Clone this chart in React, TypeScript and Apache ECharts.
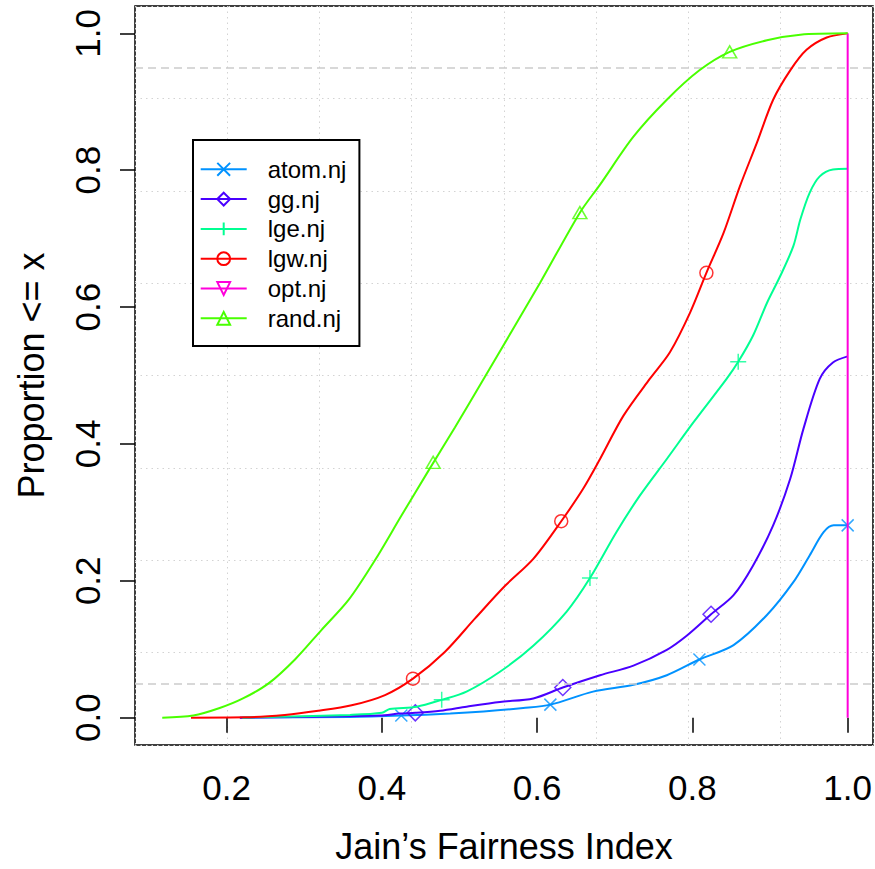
import { useEffect, useRef } from 'react';
import * as echarts from 'echarts';

// ---- data ----
const seriesNames = ['atom.nj', 'gg.nj', 'lge.nj', 'lgw.nj', 'opt.nj', 'rand.nj'];
const seriesColors = ['#0092FF', '#4900FF', '#00FF92', '#FF0000', '#FF00DB', '#49FF00'];

const atomX = [0.217, 0.359, 0.425, 0.488, 0.531, 0.582, 0.617, 0.672, 0.724, 0.767, 0.809, 0.853, 0.896, 0.930, 0.951, 0.969, 0.982, 1.0];
const atomY = [0, 0.001, 0.003, 0.006, 0.009, 0.014, 0.019, 0.038, 0.048, 0.062, 0.085, 0.106, 0.150, 0.198, 0.237, 0.271, 0.281, 0.281];
const atomMarkX = [0.425, 0.617, 0.809, 1.0];
const atomMarkY = [0.003, 0.019, 0.085, 0.281];

const ggX = [0.217, 0.397, 0.423, 0.443, 0.475, 0.509, 0.552, 0.595, 0.633, 0.681, 0.724, 0.767, 0.793, 0.824, 0.853, 0.878, 0.904, 0.926, 0.943, 0.964, 0.981, 1.0];
const ggY = [0, 0.003, 0.006, 0.007, 0.010, 0.016, 0.023, 0.028, 0.044, 0.062, 0.076, 0.099, 0.120, 0.151, 0.179, 0.222, 0.281, 0.349, 0.422, 0.495, 0.519, 0.528];
const ggMarkX = [0.443, 0.633, 0.824];
const ggMarkY = [0.007, 0.044, 0.151];

const lgeX = [0.22, 0.359, 0.40, 0.410, 0.445, 0.477, 0.509, 0.552, 0.595, 0.638, 0.668, 0.702, 0.732, 0.767, 0.801, 0.844, 0.859, 0.878, 0.896, 0.913, 0.930, 0.939, 0.951, 0.964, 0.981, 1.0];
const lgeY = [0, 0.004, 0.007, 0.0125, 0.016, 0.026, 0.038, 0.067, 0.105, 0.155, 0.204, 0.271, 0.324, 0.378, 0.431, 0.495, 0.520, 0.558, 0.606, 0.645, 0.689, 0.728, 0.767, 0.791, 0.801, 0.802];
const lgeMarkX = [0.477, 0.668, 0.859];
const lgeMarkY = [0.026, 0.204, 0.520];

const lgwX = [0.154, 0.224, 0.275, 0.318, 0.361, 0.404, 0.440, 0.481, 0.520, 0.559, 0.595, 0.631, 0.659, 0.681, 0.711, 0.745, 0.771, 0.797, 0.818, 0.840, 0.861, 0.883, 0.904, 0.926, 0.947, 0.973, 1.0];
const lgwY = [0, 0.0004, 0.004, 0.010, 0.018, 0.033, 0.057, 0.096, 0.145, 0.193, 0.232, 0.287, 0.334, 0.378, 0.441, 0.495, 0.534, 0.592, 0.650, 0.708, 0.776, 0.840, 0.903, 0.946, 0.976, 0.994, 1.0];
const lgwMarkX = [0.440, 0.631, 0.818];
const lgwMarkY = [0.057, 0.287, 0.650];

const optX = [1.0, 1.0];
const optY = [0, 1.0];
const optMarkX: number[] = [];
const optMarkY: number[] = [];

const randX = [0.117, 0.157, 0.191, 0.221, 0.254, 0.288, 0.322, 0.357, 0.391, 0.425, 0.460, 0.494, 0.531, 0.604, 0.655, 0.681, 0.724, 0.767, 0.809, 0.848, 0.896, 0.939, 1.0];
const randY = [0, 0.003, 0.014, 0.028, 0.05, 0.085, 0.128, 0.172, 0.23, 0.295, 0.361, 0.424, 0.495, 0.636, 0.738, 0.779, 0.849, 0.903, 0.946, 0.973, 0.99, 0.998, 1.0];
const randMarkX = [0.466, 0.655, 0.848];
const randMarkY = [0.373, 0.738, 0.973];

const xTicks = [0.2, 0.4, 0.6, 0.8, 1.0];
const yTicks = [0, 0.2, 0.4, 0.6, 0.8, 1.0];
const refLines = [0.95, 0.05];

const X_MIN = 0.0819;
const X_MAX = 1.0326;
const Y_MIN = -0.04;
const Y_MAX = 1.04;

const FONT = '"Liberation Sans", Arial, Helvetica, sans-serif';

const SYM = {
  cross: 'path://M0,0L10,10M10,0L0,10',
  diamond: 'path://M5,0L10,5L5,10L0,5Z',
  plus: 'path://M5,0L5,10M0,5L10,5',
  circle: 'path://M10,5A5,5,0,1,1,0,5A5,5,0,1,1,10,5Z',
  down: 'path://M0,0L10,0L5,8.66Z',
  up: 'path://M5,0L10,8.66L0,8.66Z',
};

const seriesLines = [
  { x: atomX, y: atomY, mx: atomMarkX, my: atomMarkY, sym: SYM.cross, size: 12 },
  { x: ggX, y: ggY, mx: ggMarkX, my: ggMarkY, sym: SYM.diamond, size: 16 },
  { x: lgeX, y: lgeY, mx: lgeMarkX, my: lgeMarkY, sym: SYM.plus, size: 16 },
  { x: lgwX, y: lgwY, mx: lgwMarkX, my: lgwMarkY, sym: SYM.circle, size: 13 },
  { x: optX, y: optY, mx: optMarkX, my: optMarkY, sym: SYM.down, size: [14, 12] },
  { x: randX, y: randY, mx: randMarkX, my: randMarkY, sym: SYM.up, size: [14, 12] },
];

function pairs(xs: number[], ys: number[]) {
  return xs.map((v, i) => [v, ys[i]]);
}

export default function App() {
  const ref = useRef<HTMLDivElement>(null);
  useEffect(() => {
    if (!ref.current) return;
    const chart = echarts.init(ref.current, undefined, { renderer: 'svg' });

    const series: any[] = [
      {
        type: 'line',
        name: '__ref',
        data: [],
        silent: true,
        markLine: {
          silent: true,
          symbol: ['none', 'none'],
          label: { show: false },
          lineStyle: { type: [8, 5], color: '#cccccc', width: 1.5 },
          data: refLines.map((v) => ({ yAxis: v })),
        },
      },
    ];
    seriesLines.forEach((s, i) => {
      const col = seriesColors[i];
      series.push({
        type: 'line',
        name: seriesNames[i],
        data: pairs(s.x, s.y),
        showSymbol: false,
        symbol: s.sym,
        symbolSize: s.size,
        smooth: 0.3,
        lineStyle: { color: col, width: 2 },
        itemStyle: { color: 'transparent', borderColor: col, borderWidth: 1.5 },
        z: 3 + i,
      });
      if (s.mx.length) {
        series.push({
          type: 'scatter',
          name: seriesNames[i],
          data: pairs(s.mx, s.my),
          symbol: s.sym,
          symbolSize: s.size,
          itemStyle: { color: 'transparent', borderColor: col, borderWidth: 1.5 },
          z: 3 + i,
        });
      }
    });

    chart.setOption({
      animation: false,
      backgroundColor: '#fff',
      grid: {
        left: 135,
        top: 6,
        width: 738,
        height: 740.7,
        show: true,
        borderColor: '#000',
        borderWidth: 1.5,
        backgroundColor: 'transparent',
      },
      legend: {
        data: seriesNames,
        orient: 'vertical',
        left: 193,
        top: 140,
        itemWidth: 46,
        itemHeight: 16,
        itemGap: 5.8,
        padding: [17.3, 13, 15.7, 6.7],
        backgroundColor: '#fff',
        borderColor: '#000',
        borderWidth: 2,
        borderRadius: 0,
        selectedMode: false,
        textStyle: { fontSize: 24, color: '#000', fontFamily: FONT, padding: [0, 0, 0, 16] },
      },
      xAxis: [
        {
          type: 'value',
          min: X_MIN,
          max: X_MAX,
          position: 'bottom',
          name: 'Jain’s Fairness Index',
          nameLocation: 'middle',
          nameGap: 83,
          nameTextStyle: { fontSize: 36, color: '#000', fontFamily: FONT },
          axisLine: { show: false },
          axisTick: { show: true, length: 15, customValues: xTicks, lineStyle: { color: '#000', width: 1.5 } },
          axisLabel: {
            customValues: xTicks,
            fontSize: 35,
            color: '#000',
            fontFamily: FONT,
            margin: 25,
            formatter: (v: number) => v.toFixed(1),
          },
          splitLine: { show: false },
        },
        {
          type: 'value',
          min: X_MIN,
          max: X_MAX,
          interval: (X_MAX - X_MIN) / 8,
          position: 'top',
          axisLine: { show: false },
          axisTick: { show: false },
          axisLabel: { show: false },
          splitLine: { show: true, lineStyle: { type: [1.5, 4], color: '#d3d3d3', width: 1 } },
        },
      ],
      yAxis: [
        {
          type: 'value',
          min: Y_MIN,
          max: Y_MAX,
          position: 'left',
          name: 'Proportion <= x',
          nameLocation: 'middle',
          nameGap: 86,
          nameTextStyle: { fontSize: 36, color: '#000', fontFamily: FONT },
          axisLine: { show: false },
          axisTick: { show: true, length: 15, customValues: yTicks, lineStyle: { color: '#000', width: 1.5 } },
          axisLabel: {
            customValues: yTicks,
            rotate: 90,
            fontSize: 35,
            color: '#000',
            fontFamily: FONT,
            margin: 30,
            formatter: (v: number) => v.toFixed(1),
          },
          splitLine: { show: false },
        },
        {
          type: 'value',
          min: Y_MIN,
          max: Y_MAX,
          interval: (Y_MAX - Y_MIN) / 8,
          position: 'right',
          axisLine: { show: false },
          axisTick: { show: false },
          axisLabel: { show: false },
          splitLine: { show: true, lineStyle: { type: [1.5, 4], color: '#d3d3d3', width: 1 } },
        },
      ],
      series,
    });
    return () => chart.dispose();
  }, []);
  return (
    <div
      ref={ref}
      style={{ position: 'fixed', left: 0, top: 0, width: 875, height: 869, background: '#fff' }}
    />
  );
}
